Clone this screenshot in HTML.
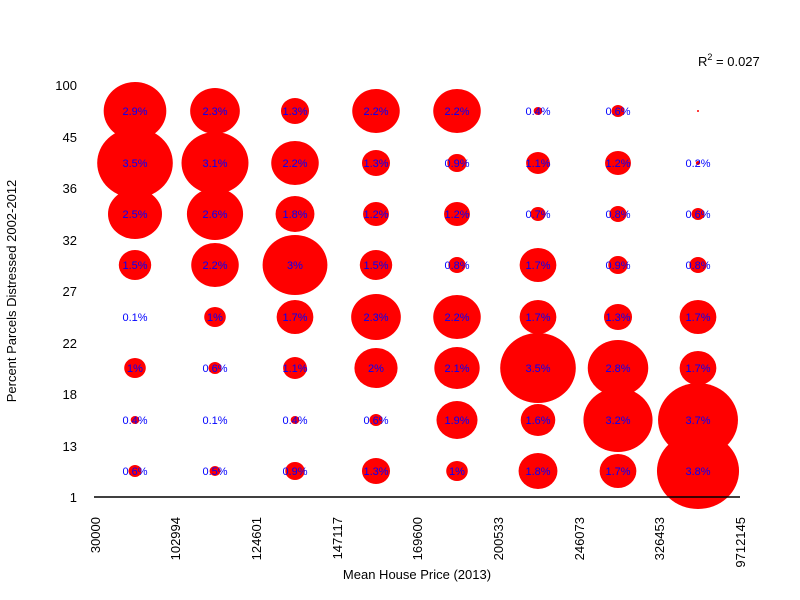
<!DOCTYPE html>
<html><head><meta charset="utf-8"><style>body{margin:0;background:#fff}svg{display:block}text{font-family:"Liberation Sans",sans-serif}</style></head>
<body>
<svg width="800" height="600" xmlns="http://www.w3.org/2000/svg">
<g id="c"></g>
<line x1="94" y1="497" x2="740" y2="497" stroke="#000" stroke-width="1.5"/>
<g font-size="13" text-anchor="end" fill="#000">
<text x="77" y="90">100</text><text x="77" y="142">45</text><text x="77" y="193">36</text><text x="77" y="245">32</text><text x="77" y="296">27</text><text x="77" y="348">22</text><text x="77" y="399">18</text><text x="77" y="451">13</text><text x="77" y="502">1</text>
<text transform="translate(100,517) rotate(-90)">30000</text>
<text transform="translate(180,517) rotate(-90)">102994</text>
<text transform="translate(261,517) rotate(-90)">124601</text>
<text transform="translate(342,517) rotate(-90)">147117</text>
<text transform="translate(422,517) rotate(-90)">169600</text>
<text transform="translate(503,517) rotate(-90)">200533</text>
<text transform="translate(584,517) rotate(-90)">246073</text>
<text transform="translate(664,517) rotate(-90)">326453</text>
<text transform="translate(745,517) rotate(-90)">9712145</text>
</g>
<text x="417" y="579" font-size="13" text-anchor="middle">Mean House Price (2013)</text>
<text transform="translate(16,291) rotate(-90)" font-size="13" text-anchor="middle">Percent Parcels Distressed 2002-2012</text>
<text x="698" y="66" font-size="13">R<tspan font-size="9" dy="-6">2</tspan><tspan dy="6"> = 0.027</tspan></text>
<g id="l"></g>
</svg>
<script>
var v=[[2.9,2.3,1.3,2.2,2.2,0.4,0.6,0.05],[3.5,3.1,2.2,1.3,0.9,1.1,1.2,0.2],[2.5,2.6,1.8,1.2,1.2,0.7,0.8,0.6],[1.5,2.2,3,1.5,0.8,1.7,0.9,0.8],[0.1,1,1.7,2.3,2.2,1.7,1.3,1.7],[1,0.6,1.1,2,2.1,3.5,2.8,1.7],[0.4,0.1,0.4,0.6,1.9,1.6,3.2,3.7],[0.6,0.5,0.9,1.3,1,1.8,1.7,3.8]];
var xs=[135,215,295,376,457,538,618,698],ys=[111,163,214,265,317,368,420,471];
var c='',l='';
for(var i=0;i<8;i++)for(var j=0;j<8;j++){var a=v[i][j];var rx=10.8*a,ry=10*a;
if(a<=0.1){rx=a<0.1?1:0;ry=rx;}
if(rx>0)c+='<ellipse cx="'+xs[j]+'" cy="'+ys[i]+'" rx="'+rx+'" ry="'+ry+'" fill="#f00"/>';
if(a>=0.1)l+='<text x="'+xs[j]+'" y="'+(ys[i]+4)+'" font-size="11" text-anchor="middle" fill="#00f">'+a+'%</text>';}
document.getElementById('c').innerHTML=c;document.getElementById('l').innerHTML=l;
</script>
</body></html>
